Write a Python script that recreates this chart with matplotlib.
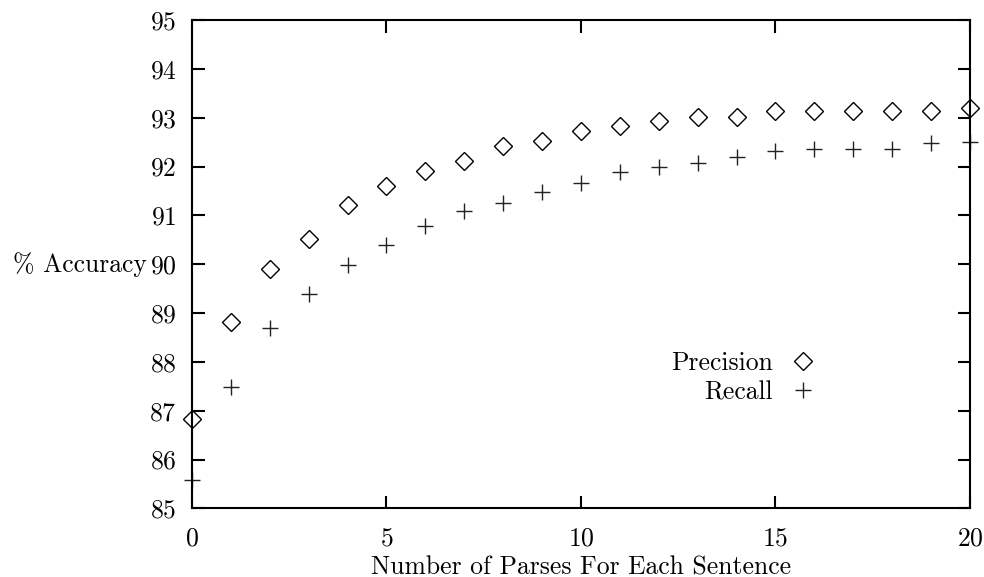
import matplotlib
matplotlib.use("Agg")
import matplotlib.pyplot as plt
import numpy as np

plt.rcParams['font.family'] = ['cmr10', 'DejaVu Serif']
plt.rcParams['axes.formatter.use_mathtext'] = True
plt.rcParams['mathtext.fontset'] = 'cm'

# data
parses = list(range(0, 21))
precision = [86.82, 88.81, 89.91, 90.51, 91.22, 91.60, 91.91, 92.12, 92.41, 92.53, 92.72,
             92.83, 92.94, 93.02, 93.02, 93.13, 93.13, 93.13, 93.13, 93.13, 93.20]
recall = [85.59, 87.49, 88.69, 89.39, 89.99, 90.40, 90.79, 91.09, 91.26, 91.47, 91.66,
          91.88, 92.00, 92.07, 92.20, 92.31, 92.36, 92.36, 92.36, 92.48, 92.51]

fs = 18.5

fig = plt.figure(figsize=(9.84, 5.77), dpi=100)
ax = fig.add_axes([0.195, 0.119, 0.7908, 0.8463])

ax.plot(parses, precision, linestyle='none', marker='D', ms=9.2, mfc='none',
        mec='black', mew=1.0, label='Precision', clip_on=False)
ax.plot(parses, recall, linestyle='none', marker='+', ms=11.5, color='#222222',
        mew=1.0, label='Recall', clip_on=False)

ax.set_xlim(0, 20)
ax.set_ylim(85, 95)
ax.set_xticks(np.arange(0, 21, 5))
ax.set_yticks(np.arange(85, 96, 1))

for s in ax.spines.values():
    s.set_linewidth(1.5)

ax.tick_params(direction='in', length=9, width=1.5, top=True, right=True, labelsize=fs)
ax.tick_params(axis='x', pad=13)
ax.tick_params(axis='y', pad=11)

ax.set_xlabel('Number of Parses For Each Sentence', fontsize=fs, labelpad=4)
ax.set_ylabel('% Accuracy', fontsize=fs, rotation=0, ha='right', va='center')
ax.yaxis.set_label_coords(-0.058, 0.5)

ax.legend(loc='upper right', bbox_to_anchor=(0.8085, 0.322), frameon=False,
          markerfirst=False, fontsize=fs, borderpad=0, borderaxespad=0,
          handlelength=1.4, handletextpad=0.47, labelspacing=0.23)

plt.savefig('out.png', dpi=100)
plt.close()
